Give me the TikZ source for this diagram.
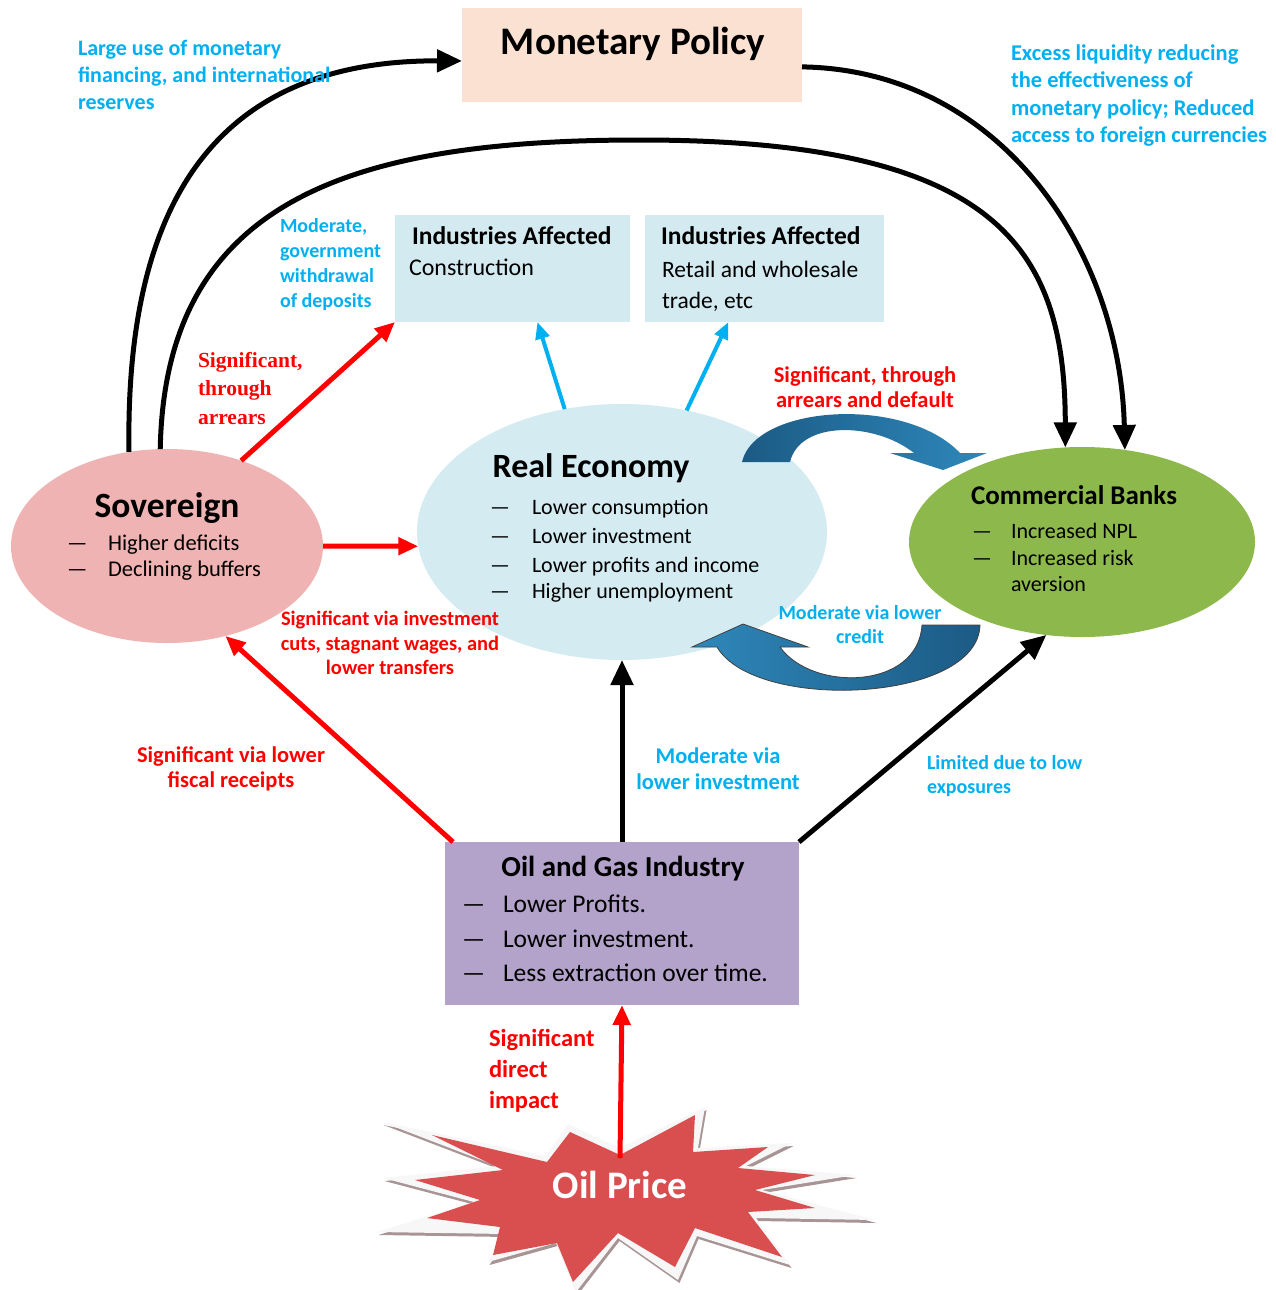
\documentclass[tikz,border=0pt]{standalone}
\usepackage{fontspec}
\setmainfont{Carlito}
\newfontfamily\rserif{Liberation Serif}
\usetikzlibrary{arrows.meta,shapes.geometric}
\definecolor{cblue}{HTML}{00B0F0}
\definecolor{cred}{HTML}{FF0000}
\definecolor{mpfill}{HTML}{FBE1D1}
\definecolor{indfill}{HTML}{D3EAF1}
\definecolor{sovfill}{HTML}{F0B3B3}
\definecolor{refill}{HTML}{D5EBF2}
\definecolor{cbfill}{HTML}{8DB94C}
\definecolor{oilfill}{HTML}{B3A2C9}
\definecolor{starred}{HTML}{D94E4E}
\definecolor{starshadow}{HTML}{A89494}
\definecolor{arrdark}{HTML}{1C5A85}
\definecolor{arrlight}{HTML}{2E88BA}
\newcommand\fsz[2]{\fontsize{#1}{#2}\selectfont}
\begin{document}
\begin{tikzpicture}[x=1pt,y=-1pt,
  txt/.style={inner sep=0pt,outer sep=0pt},
  blk/.style={draw=black,line width=5pt,-{Triangle[length=25pt,width=22pt]}},
  redarr/.style={draw=cred,line width=5pt,-{Triangle[length=20pt,width=17pt]}},
  bluearr/.style={draw=cblue,line width=4pt,-{Triangle[length=17pt,width=14pt]}},
  bluelbl/.style={txt,text=cblue},
  redlbl/.style={txt,text=cred},
  boxshape/.style={rectangle,inner sep=0pt,outer sep=0pt},
  ellshape/.style={ellipse,inner sep=0pt,outer sep=0pt},
  bul/.style={txt,anchor=base west},
]
\useasboundingbox (0,0) rectangle (1276,1290);
\fill[white] (0,0) rectangle (1276,1290);

% ---------- main shapes ----------
\node[boxshape,fill=mpfill,minimum width=340pt,minimum height=94pt] (mp) at (632,55) {};
\node[boxshape,fill=indfill,minimum width=235pt,minimum height=107pt] (box1) at (512.5,268.5) {};
\node[boxshape,fill=indfill,minimum width=239pt,minimum height=107pt] (box2) at (764.5,268.5) {};
\node[ellshape,fill=sovfill,minimum width=312pt,minimum height=194pt] (sov) at (167,546) {};
\node[ellshape,fill=refill,minimum width=410pt,minimum height=256pt] (re) at (622,532) {};
\node[ellshape,fill=cbfill,minimum width=346pt,minimum height=190pt] (cb) at (1082,542) {};
\node[boxshape,fill=oilfill,minimum width=354pt,minimum height=163pt] (oil) at (622,923.5) {};

% ---------- starburst ----------
\def\outerstar{(620,1148) -- (705,1107) -- (698,1148) -- (792,1143) -- (746,1166) -- (855,1175) -- (762,1190) -- (875,1220) -- (756,1218) -- (790,1265) -- (697,1236) -- (678,1280) -- (618,1238) -- (576,1292) -- (556,1243) -- (488,1262) -- (506,1234) -- (377,1232) -- (474,1202) -- (383,1178) -- (497,1166) -- (382,1122) -- (546,1156) -- (568,1124) -- cycle}
\def\innerstar{(620,1155) -- (695,1115) -- (693,1152) -- (768,1147) -- (738,1168) -- (815,1175) -- (755,1190) -- (815,1208) -- (748,1212) -- (782,1257) -- (695,1228) -- (675,1267) -- (618,1233) -- (573,1282) -- (557,1243) -- (493,1255) -- (500,1227) -- (427,1218) -- (480,1200) -- (415,1180) -- (503,1170) -- (432,1135) -- (547,1162) -- (570,1132) -- cycle}
\fill[starshadow,shift={(1.5,3)}] \outerstar;
\fill[white!94!gray] \outerstar;
\fill[starred] \innerstar;
\node[txt,font=\fsz{39}{42}\bfseries,text=white,anchor=base] (price) at (620,1198) {Oil Price};
\coordinate (pricetop) at (620,1158);

% ---------- node texts ----------
\node[txt,font=\fsz{39}{42}\bfseries,anchor=base] (mpt) at (633,55) {Monetary Policy};

\node[bul,font=\fsz{25.5}{28}\bfseries] (b1t) at (412,244) {Industries Affected};
\node[bul,font=\fsz{24}{26}] (b1a) at (409,275) {Construction};
\node[bul,font=\fsz{25.5}{28}\bfseries] (b2t) at (661,244) {Industries Affected};
\node[bul,font=\fsz{23.5}{26}] (b2a) at (662,277) {Retail and wholesale};
\node[bul,font=\fsz{23.5}{26}] (b2b) at (662,308) {trade, etc};

\node[txt,font=\fsz{35.5}{38}\bfseries,anchor=base] (sovt) at (167,517) {Sovereign};
\node[bul,font=\fsz{22.5}{24}] (sd1) at (67,550) {—};
\node[bul,font=\fsz{22.5}{24}] (st1) at (108,550) {Higher deficits};
\node[bul,font=\fsz{22.5}{24}] (sd2) at (67,576) {—};
\node[bul,font=\fsz{22.5}{24}] (st2) at (108,576) {Declining buffers};

\node[txt,font=\fsz{34}{38}\bfseries,anchor=base] (ret) at (591,477.5) {Real Economy};
\node[bul,font=\fsz{22}{24}] (rd1) at (490,514) {—};
\node[bul,font=\fsz{22}{24}] (rt1) at (532,514) {Lower consumption};
\node[bul,font=\fsz{22}{24}] (rd2) at (490,543) {—};
\node[bul,font=\fsz{22}{24}] (rt2) at (532,543) {Lower investment};
\node[bul,font=\fsz{22}{24}] (rd3) at (490,572) {—};
\node[bul,font=\fsz{22}{24}] (rt3) at (532,572) {Lower profits and income};
\node[bul,font=\fsz{22}{24}] (rd4) at (490,598) {—};
\node[bul,font=\fsz{22}{24}] (rt4) at (532,598) {Higher unemployment};

\node[txt,font=\fsz{27}{30}\bfseries,anchor=base] (cbt) at (1074,504.5) {Commercial Banks};
\node[bul,font=\fsz{22}{24}] (cd1) at (972,538) {—};
\node[bul,font=\fsz{22}{24}] (ct1) at (1011,538) {Increased NPL};
\node[bul,font=\fsz{22}{24}] (cd2) at (972,565) {—};
\node[bul,font=\fsz{22}{24}] (ct2) at (1011,565) {Increased risk};
\node[bul,font=\fsz{22}{24}] (ct3) at (1011,591) {aversion};

\node[txt,font=\fsz{29}{32}\bfseries,anchor=base] (oilt) at (623,876) {Oil and Gas Industry};
\node[bul,font=\fsz{25.5}{28}] (od1) at (462,912) {—};
\node[bul,font=\fsz{25.5}{28}] (ot1) at (503,912) {Lower Profits.};
\node[bul,font=\fsz{25.5}{28}] (od2) at (462,947) {—};
\node[bul,font=\fsz{25.5}{28}] (ot2) at (503,947) {Lower investment.};
\node[bul,font=\fsz{25.5}{28}] (od3) at (462,981) {—};
\node[bul,font=\fsz{25.5}{28}] (ot3) at (503,981) {Less extraction over time.};

% ---------- curved block arrows ----------
\shade[left color=arrdark,right color=arrlight] (742,462) .. controls (755,405) and (905,395) .. (960,453) -- (987,453) -- (943,470) -- (890,453) -- (914,453) .. controls (875,422) and (800,420) .. (790,462) -- cycle;
\shade[left color=arrlight,right color=arrdark,draw=black!75,line width=0.8pt] (980,625) .. controls (978,703) and (755,712) .. (717,647) -- (692,647) -- (743,624) -- (808,647) -- (780,647) .. controls (812,692) and (918,690) .. (922,625) -- cycle;

% ---------- connectors ----------
\draw[blk] (sov.112) .. controls (125,200) and (218,60) .. (mp.182);
\draw[blk] (sov.94) .. controls (165,200) and (350,140) .. (640,140) .. controls (1000,140) and (1065,250) .. (cb.100);
\draw[blk] (mp.-4) .. controls (1000,70) and (1120,250) .. (cb.65);
\draw[redarr] (sov.49) -- (box1.south west);
\draw[redarr] (sov.east) -- (re.184);
\draw[bluearr] (re.115) -- (box1.295);
\draw[bluearr] (re.62) -- (box2.236);
\draw[redarr] ([xshift=8pt]oil.north west) -- (sov.303);
\draw[blk] (oil.north) -- (re.south);
\draw[blk] (oil.north east) -- (cb.249);
\draw[redarr] (pricetop) -- (oil.south);

% ---------- labels ----------
\node[bluelbl,font=\fsz{22}{27}\bfseries,align=left,anchor=north west] (l1) at (78,40) {Large use of monetary\\financing, and international\\reserves};
\node[bluelbl,font=\fsz{22.5}{27.5}\bfseries,align=left,anchor=north west] (l2) at (1011,44.5) {Excess liquidity reducing\\the effectiveness of\\monetary policy; Reduced\\access to foreign currencies};
\node[bluelbl,font=\fsz{20}{25}\bfseries,align=left,anchor=north west] (l3) at (280,218.5) {Moderate,\\government\\withdrawal\\of deposits};
\node[bluelbl,font=\fsz{20}{24}\bfseries,align=center,anchor=north] (l4) at (860,605.5) {Moderate via lower\\credit};
\node[bluelbl,font=\fsz{22.5}{26}\bfseries,align=center,anchor=north] (l5) at (718,747.5) {Moderate via\\lower investment};
\node[bluelbl,font=\fsz{20}{24}\bfseries,align=left,anchor=north west] (l6) at (927,755.5) {Limited due to low\\exposures};
\node[redlbl,font=\fsz{21.5}{28.5}\rserif\bfseries,align=left,anchor=north west] (l7) at (198,352) {Significant,\\through\\arrears};
\node[redlbl,font=\fsz{22.5}{25}\bfseries,align=center,anchor=north] (l8) at (865,366.5) {Significant, through\\arrears and default};
\node[redlbl,font=\fsz{20.5}{24.5}\bfseries,align=center,anchor=north] (l9) at (390,611.5) {Significant via investment\\cuts, stagnant wages, and\\lower transfers};
\node[redlbl,font=\fsz{22.5}{25}\bfseries,align=center,anchor=north] (l10) at (231,746.5) {Significant via lower\\fiscal receipts};
\node[redlbl,font=\fsz{24.5}{31}\bfseries,align=left,anchor=north west] (l11) at (489,1029.5) {Significant\\direct\\impact};
\end{tikzpicture}
\end{document}
